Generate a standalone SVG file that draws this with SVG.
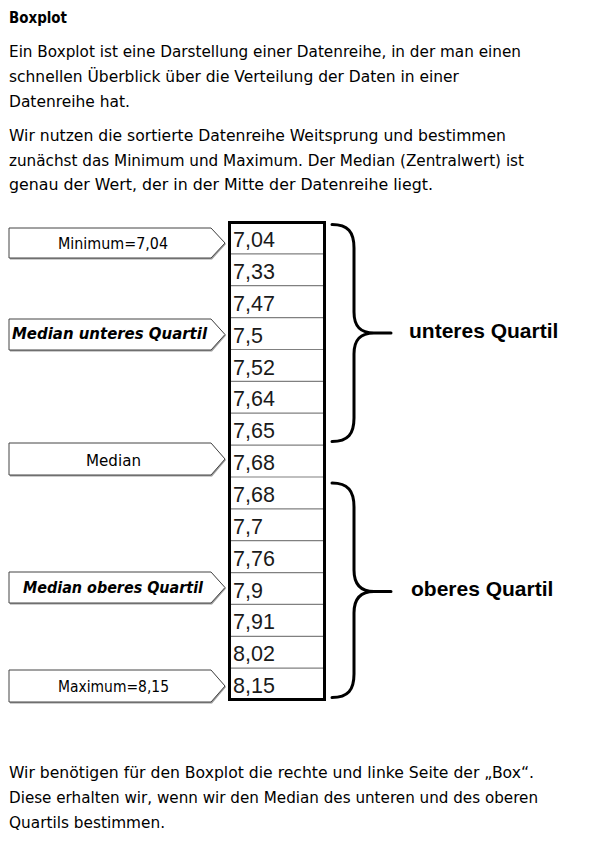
<svg xmlns="http://www.w3.org/2000/svg" width="589" height="844" viewBox="0 0 589 844">
<style>
.body{font-family:"Comic Sans MS","DejaVu Sans",sans-serif;font-size:15px;fill:#000}
.title{font-family:"Comic Sans MS","DejaVu Sans",sans-serif;font-size:15px;font-weight:bold;fill:#000}
.lbl{font-family:"Comic Sans MS","DejaVu Sans",sans-serif;font-size:15px;fill:#000}
.lblb{font-family:"Comic Sans MS","DejaVu Sans",sans-serif;font-size:15px;font-weight:bold;font-style:italic;fill:#000}
.arrow{fill:#fff;stroke:#444;stroke-width:1}
.shadow{fill:#9a9a9a;stroke:none}
.num{font-family:"Liberation Sans",Arial,sans-serif;font-size:21.5px;fill:#1a1a1a}
.sep{stroke:#808080;stroke-width:1.2}
.frame{fill:#fff;stroke:#000;stroke-width:3}
.brace{fill:none;stroke:#000;stroke-width:3;stroke-linecap:round;stroke-linejoin:round}
.q{font-family:"Liberation Sans",Arial,sans-serif;font-size:21px;font-weight:bold;fill:#000}
</style>
<rect width="589" height="844" fill="#fff"/>
<g id="intro">
<text class="title" x="9" y="23" textLength="58" lengthAdjust="spacingAndGlyphs">Boxplot</text>
<text class="body" x="9" y="57" textLength="512" lengthAdjust="spacingAndGlyphs">Ein Boxplot ist eine Darstellung einer Datenreihe, in der man einen</text>
<text class="body" x="9" y="82" textLength="450" lengthAdjust="spacingAndGlyphs">schnellen Überblick über die Verteilung der Daten in einer</text>
<text class="body" x="9" y="107" textLength="121" lengthAdjust="spacingAndGlyphs">Datenreihe hat.</text>
<text class="body" x="9" y="141" textLength="497" lengthAdjust="spacingAndGlyphs">Wir nutzen die sortierte Datenreihe Weitsprung und bestimmen</text>
<text class="body" x="9" y="166" textLength="515" lengthAdjust="spacingAndGlyphs">zunächst das Minimum und Maximum. Der Median (Zentralwert) ist</text>
<text class="body" x="9" y="190" textLength="424" lengthAdjust="spacingAndGlyphs">genau der Wert, der in der Mitte der Datenreihe liegt.</text>
</g>
<g id="table">
<rect class="frame" x="229.5" y="222.5" width="95" height="477"/>
<g id="rows">
<line class="sep" x1="231" y1="253.9" x2="323" y2="253.9"/>
<line class="sep" x1="231" y1="285.7" x2="323" y2="285.7"/>
<line class="sep" x1="231" y1="317.6" x2="323" y2="317.6"/>
<line class="sep" x1="231" y1="349.5" x2="323" y2="349.5"/>
<line class="sep" x1="231" y1="381.4" x2="323" y2="381.4"/>
<line class="sep" x1="231" y1="413.2" x2="323" y2="413.2"/>
<line class="sep" x1="231" y1="445.1" x2="323" y2="445.1"/>
<line class="sep" x1="231" y1="477" x2="323" y2="477"/>
<line class="sep" x1="231" y1="508.8" x2="323" y2="508.8"/>
<line class="sep" x1="231" y1="540.7" x2="323" y2="540.7"/>
<line class="sep" x1="231" y1="572.6" x2="323" y2="572.6"/>
<line class="sep" x1="231" y1="604.4" x2="323" y2="604.4"/>
<line class="sep" x1="231" y1="636.3" x2="323" y2="636.3"/>
<line class="sep" x1="231" y1="668.2" x2="323" y2="668.2"/>
</g>
<text class="num" x="233" y="247">7,04</text>
<text class="num" x="233" y="278.9">7,33</text>
<text class="num" x="233" y="310.7">7,47</text>
<text class="num" x="233" y="342.6">7,5</text>
<text class="num" x="233" y="374.5">7,52</text>
<text class="num" x="233" y="406.4">7,64</text>
<text class="num" x="233" y="438.2">7,65</text>
<text class="num" x="233" y="470.1">7,68</text>
<text class="num" x="233" y="502">7,68</text>
<text class="num" x="233" y="533.8">7,7</text>
<text class="num" x="233" y="565.7">7,76</text>
<text class="num" x="233" y="597.6">7,9</text>
<text class="num" x="233" y="629.4">7,91</text>
<text class="num" x="233" y="661.3">8,02</text>
<text class="num" x="233" y="693.2">8,15</text>
</g>
<g id="label-minimum">
<polygon class="shadow" points="10,229 212,229 226,244 212,259.5 10,259.5"/>
<polygon class="arrow" points="9,228 211,228 225,243 211,258 9,258"/>
<text class="lbl" x="58" y="248.5" textLength="110" lengthAdjust="spacingAndGlyphs">Minimum=7,04</text>
</g>
<g id="label-median-unteres">
<polygon class="shadow" points="10,320 212,320 226,335.5 212,351.5 10,351.5"/>
<polygon class="arrow" points="9,319 211,319 225,334.5 211,350 9,350"/>
<text class="lblb" x="12" y="339" textLength="195" lengthAdjust="spacingAndGlyphs">Median unteres Quartil</text>
</g>
<g id="label-median">
<polygon class="shadow" points="10,444 212,444 226,460 212,476.5 10,476.5"/>
<polygon class="arrow" points="9,443 211,443 225,459 211,475 9,475"/>
<text class="lbl" x="86" y="466" textLength="55" lengthAdjust="spacingAndGlyphs">Median</text>
</g>
<g id="label-median-oberes">
<polygon class="shadow" points="10,573 212,573 226,588.5 212,604.5 10,604.5"/>
<polygon class="arrow" points="9,572 211,572 225,587.5 211,603 9,603"/>
<text class="lblb" x="23" y="593" textLength="180" lengthAdjust="spacingAndGlyphs">Median oberes Quartil</text>
</g>
<g id="label-maximum">
<polygon class="shadow" points="10,671 212,671 226,687 212,703.5 10,703.5"/>
<polygon class="arrow" points="9,670 211,670 225,686 211,702 9,702"/>
<text class="lbl" x="58" y="692" textLength="111" lengthAdjust="spacingAndGlyphs">Maximum=8,15</text>
</g>
<g id="connectors">
<path class="brace" d="M332,224.5 C348,224.5 354,232 354,248 L354,312 C354,326 360,333 374,333 L391,333 M374,333 C360,333 354,340 354,354 L354,418 C354,434 348,441.5 332,441.5"/>
<path class="brace" d="M332,483 C348,483 354,491 354,507 L354,570 C354,584 360,591.5 374,591.5 L391,591.5 M374,591.5 C360,591.5 354,599 354,613 L354,674 C354,690 348,697.5 332,697.5"/>
</g>
<g id="quartil-labels">
<text class="q" x="409" y="337.5">unteres Quartil</text>
<text class="q" x="411" y="596">oberes Quartil</text>
</g>
<g id="outro">
<text class="body" x="9" y="778" textLength="525" lengthAdjust="spacingAndGlyphs">Wir benötigen für den Boxplot die rechte und linke Seite der „Box“.</text>
<text class="body" x="9" y="803" textLength="529" lengthAdjust="spacingAndGlyphs">Diese erhalten wir, wenn wir den Median des unteren und des oberen</text>
<text class="body" x="9" y="828" textLength="156" lengthAdjust="spacingAndGlyphs">Quartils bestimmen.</text>
</g>
</svg>
